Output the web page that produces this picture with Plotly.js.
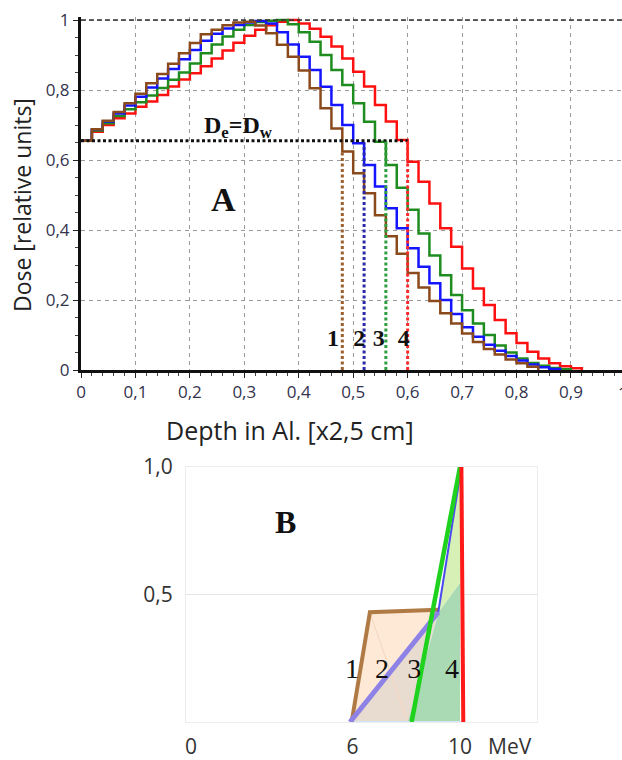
<!DOCTYPE html>
<html><head><meta charset="utf-8">
<script src="https://cdn.plot.ly/plotly-3.0.1.min.js"></script>
<style>html,body{margin:0;padding:0;background:#fff;}#chart{width:622px;height:760px;}</style>
</head><body><div id="chart"></div>
<script>
// ---------- Chart A : depth-dose step curves ----------
const DEPTH = [0,0.02,0.04,0.06,0.08,0.10,0.12,0.14,0.16,0.18,0.20,0.22,0.24,0.26,0.28,0.30,0.32,0.34,0.36,0.38,0.40,0.42,0.44,0.46,0.48,0.50,0.52,0.54,0.56,0.58,0.60,0.62,0.64,0.66,0.68,0.70,0.72,0.74,0.76,0.78,0.80,0.82,0.84,0.86,0.88,0.90,0.92];
const DOSE_1 = [0.655,0.688,0.712,0.737,0.762,0.789,0.819,0.846,0.875,0.905,0.934,0.959,0.972,0.985,0.993,0.995,0.984,0.962,0.929,0.895,0.856,0.805,0.748,0.690,0.624,0.562,0.505,0.442,0.382,0.332,0.277,0.236,0.197,0.162,0.133,0.104,0.080,0.060,0.044,0.030,0.019,0.009];
const DOSE_2 = [0.655,0.688,0.710,0.733,0.756,0.781,0.807,0.833,0.860,0.888,0.914,0.941,0.961,0.976,0.986,0.993,0.997,0.990,0.965,0.930,0.895,0.857,0.809,0.757,0.700,0.648,0.586,0.524,0.462,0.405,0.348,0.295,0.248,0.200,0.160,0.122,0.095,0.072,0.055,0.040,0.027,0.016,0.008,0.003];
const DOSE_3 = [0.655,0.684,0.705,0.726,0.745,0.765,0.784,0.806,0.829,0.850,0.876,0.905,0.930,0.953,0.972,0.986,0.994,0.998,1.000,0.988,0.965,0.938,0.900,0.857,0.814,0.762,0.709,0.652,0.586,0.521,0.458,0.390,0.327,0.271,0.214,0.171,0.133,0.100,0.070,0.050,0.033,0.020,0.012,0.006,0.002];
const DOSE_4 = [0.655,0.681,0.700,0.719,0.733,0.752,0.767,0.786,0.810,0.830,0.848,0.868,0.890,0.913,0.935,0.955,0.972,0.985,0.995,1.000,0.990,0.975,0.952,0.924,0.890,0.852,0.810,0.757,0.710,0.657,0.595,0.538,0.476,0.405,0.352,0.290,0.233,0.186,0.143,0.105,0.077,0.052,0.033,0.019,0.011,0.005];
const END_DEPTH = [0.84, 0.88, 0.90, 0.92];
const CURVE_LABELS = ['1','2','3','4'];
const CROSS_DEPTH = [0.48, 0.52, 0.56, 0.60];
const CROSS_TOP = [0.624, 0.648, 0.655, 0.655];
const DE_LEVEL = 0.655;
const A_XTICKS = [0,0.1,0.2,0.3,0.4,0.5,0.6,0.7,0.8,0.9,1];
const A_NUM_DEPTH = [0.463, 0.511, 0.547, 0.593];
const A_NUM_DOSE = 0.087;

// ---------- Chart B : energy diagram ----------
const B_XTICKS = [0, 6, 10];
const B_XTICKTEXT = ['0','6','10'];
const B_YTICKS = [0.5, 1.0];
const B_YTICKTEXT = ['0,5','1,0'];
const B_BROWN_E = [5.97, 6.65, 9.19];   const B_BROWN_Y = [0, 0.43, 0.44];
const B_BLUE_E = [5.91, 9.19];           const B_BLUE_Y = [0, 0.43];
const B_BLUE2_E = [9.19, 10.05];         const B_BLUE2_Y = [0.43, 1.0];
const B_GREEN_E = [8.2, 10.0];           const B_GREEN_Y = [0, 1.0];
const B_RED_E = [10.05, 10.12];          const B_RED_Y = [1.0, 0];
const B_BASE_E = [5.91, 10.12];          const B_BASE_Y = [0, 0];
const B_PEACH_E = [5.97, 6.65, 9.19, 8.05]; const B_PEACH_Y = [0, 0.43, 0.44, 0];
const B_TAUPE_E = [5.97, 9.19, 8.05];    const B_TAUPE_Y = [0, 0.43, 0];
const B_FAINT_E = [6.65, 8.05];          const B_FAINT_Y = [0.43, 0];
const B_GFILL_E = [8.05, 9.2, 10.0, 10.0]; const B_GFILL_Y = [0, 0.43, 0.545, 0];
const B_YFILL_E = [9.2, 10.05, 10.0];    const B_YFILL_Y = [0.43, 1.0, 0.545];
const B_NUM_E = [5.98, 7.1, 8.3, 9.7];   const B_NUM_Y = [0.2, 0.2, 0.2, 0.2];

const W = 622, H = 760;
const PX = v => v / W;
const PY = v => 1 - v / H;

const A_COLORS = ['#8B4A1C', '#1414FF', '#1E8C1E', '#FF1010'];
const A_DOT_COLORS = ['#9C5F2E', '#2A2AA8', '#2E9E3E', '#FF2A2A'];

function stepTrace(vals, end, color) {
  return {
    x: DEPTH.slice(0, vals.length).concat([end]),
    y: vals.concat([0]),
    mode: 'lines', line: {shape: 'hv', color: color, width: 2.5},
    xaxis: 'x', yaxis: 'y', hoverinfo: 'skip'
  };
}
const doses = [DOSE_1, DOSE_2, DOSE_3, DOSE_4];
const traces = [];
for (let i = 3; i >= 0; i--) traces.push(stepTrace(doses[i], END_DEPTH[i], A_COLORS[i]));
traces.push({x: [0, CROSS_DEPTH[3]], y: [DE_LEVEL, DE_LEVEL], mode: 'lines',
  line: {color: '#111', width: 3, dash: '3px,2.5px'}, xaxis: 'x', yaxis: 'y', hoverinfo: 'skip'});
for (let i = 0; i < 4; i++) {
  traces.push({x: [CROSS_DEPTH[i], CROSS_DEPTH[i]], y: [0, CROSS_TOP[i]], mode: 'lines',
    line: {color: A_DOT_COLORS[i], width: 3, dash: '3px,2.5px'}, xaxis: 'x', yaxis: 'y', hoverinfo: 'skip'});
}
traces.push({x: A_NUM_DEPTH, y: A_NUM_DEPTH.map(() => A_NUM_DOSE), mode: 'text',
  text: CURVE_LABELS.map(s => '<b>' + s + '</b>'), textposition: 'middle center',
  textfont: {family: 'Liberation Serif', size: 24, color: '#111'}, xaxis: 'x', yaxis: 'y', hoverinfo: 'skip'});

function poly(e, y, fill) {
  return {x: e, y: y, mode: 'lines', fill: 'toself', fillcolor: fill, line: {width: 0},
    xaxis: 'x2', yaxis: 'y2', hoverinfo: 'skip'};
}
function seg(e, y, color, w) {
  return {x: e, y: y, mode: 'lines', line: {color: color, width: w}, xaxis: 'x2', yaxis: 'y2', hoverinfo: 'skip'};
}
traces.push(poly(B_PEACH_E, B_PEACH_Y, '#fde9d6'));
traces.push(poly(B_TAUPE_E, B_TAUPE_Y, '#e8dbd0'));
traces.push(seg(B_FAINT_E, B_FAINT_Y, '#f5d6bf', 1));
traces.push(poly(B_GFILL_E, B_GFILL_Y, '#a9dab3'));
traces.push(poly(B_YFILL_E, B_YFILL_Y, '#d6f0b6'));
traces.push(seg(B_BASE_E, B_BASE_Y, '#cfe4f7', 2));
traces.push(seg(B_BROWN_E, B_BROWN_Y, '#b07a45', 4));
traces.push(seg(B_BLUE_E, B_BLUE_Y, '#8f82e6', 5));
traces.push(seg(B_BLUE2_E, B_BLUE2_Y, '#4a4af0', 2));
traces.push(seg(B_GREEN_E, B_GREEN_Y, '#1ed21e', 4.5));
traces.push(seg(B_RED_E, B_RED_Y, '#ff1a1a', 4));
traces.push({x: B_NUM_E, y: B_NUM_Y, mode: 'text', text: CURVE_LABELS, textposition: 'middle center',
  textfont: {family: 'Liberation Serif', size: 28, color: '#111'}, xaxis: 'x2', yaxis: 'y2', hoverinfo: 'skip'});

const tickFontA = {family: 'Open Sans', size: 17, color: '#33334d'};
const layout = {
  width: W, height: H, margin: {l: 0, r: 0, t: 0, b: 0},
  paper_bgcolor: '#fff', plot_bgcolor: 'rgba(0,0,0,0)',
  separators: ', ', showlegend: false,
  xaxis: {
    domain: [PX(81), 1], range: [0, 541 / 544.4], anchor: 'y',
    tickvals: A_XTICKS, showgrid: true, gridcolor: '#9a9a9a', griddash: '4px,4px', gridwidth: 1,
    zeroline: false, showline: true, linecolor: '#111', linewidth: 3,
    ticks: 'outside', ticklen: 5, tickcolor: '#222', tickwidth: 1,
    minor: {dtick: 0.02, tick0: 0, ticks: 'outside', ticklen: 3, tickcolor: '#444', showgrid: false},
    tickfont: tickFontA
  },
  yaxis: {
    domain: [PY(370), PY(16.5)], range: [0, 1.01], anchor: 'x',
    dtick: 0.2, tick0: 0, showgrid: true, gridcolor: '#9a9a9a', griddash: '4px,4px', gridwidth: 1,
    zeroline: false, showline: true, linecolor: '#111', linewidth: 3,
    ticks: 'outside', ticklen: 5, tickcolor: '#222', tickwidth: 1,
    minor: {dtick: 0.05, tick0: 0, ticks: 'outside', ticklen: 3, tickcolor: '#444', showgrid: false},
    tickfont: tickFontA
  },
  xaxis2: {
    domain: [PX(186), PX(537)], range: [-0.186, 12.86], anchor: 'y2',
    tickvals: B_XTICKS, ticktext: B_XTICKTEXT, showgrid: false, zeroline: false,
    showline: true, mirror: true, linecolor: '#ececec', linewidth: 1, ticks: '',
    ticklabelstandoff: 6,
    tickfont: {family: 'Open Sans', size: 21, color: '#333'}
  },
  yaxis2: {
    domain: [PY(722), PY(466.7)], range: [0, 1], anchor: 'x2',
    tickvals: B_YTICKS, ticktext: B_YTICKTEXT, showgrid: true, gridcolor: '#e4e4e4', gridwidth: 1.5,
    zeroline: false, showline: true, mirror: true, linecolor: '#ececec', linewidth: 1, ticks: '',
    ticklabelstandoff: 8,
    tickfont: {family: 'Open Sans', size: 21, color: '#333'}
  },
  shapes: [
    {type: 'line', xref: 'x domain', yref: 'y', x0: 0, x1: 1, y0: 1, y1: 1,
     line: {color: '#333', width: 1.5, dash: '5px,3px'}}
  ],
  annotations: [
    {xref: 'paper', yref: 'paper', x: PX(616), y: PY(392), text: '1', showarrow: false,
     font: tickFontA, xanchor: 'left', yanchor: 'middle'},
    {xref: 'paper', yref: 'paper', x: PX(22), y: PY(205), text: 'Dose [relative units]', textangle: -90,
     showarrow: false, font: {family: 'Open Sans', size: 23, color: '#222'}, xanchor: 'center', yanchor: 'middle'},
    {xref: 'paper', yref: 'paper', x: PX(290), y: PY(430), text: 'Depth in Al. [x2,5 cm]',
     showarrow: false, font: {family: 'Open Sans', size: 25, color: '#222'}, xanchor: 'center', yanchor: 'middle'},
    {xref: 'paper', yref: 'paper', x: PX(238), y: PY(127), text: '<b>D<sub>e</sub>=D<sub>w</sub></b>',
     showarrow: false, font: {family: 'Liberation Serif', size: 24, color: '#111'}, xanchor: 'center', yanchor: 'middle'},
    {xref: 'paper', yref: 'paper', x: PX(223), y: PY(200), text: '<b>A</b>',
     showarrow: false, font: {family: 'Liberation Serif', size: 34, color: '#111'}, xanchor: 'center', yanchor: 'middle'},
    {xref: 'paper', yref: 'paper', x: PX(285), y: PY(522), text: '<b>B</b>',
     showarrow: false, font: {family: 'Liberation Serif', size: 32, color: '#111'}, xanchor: 'center', yanchor: 'middle'},
    {xref: 'paper', yref: 'paper', x: PX(486), y: PY(746), text: 'MeV',
     showarrow: false, font: {family: 'Open Sans', size: 21, color: '#333'}, xanchor: 'left', yanchor: 'middle'}
  ]
};
Plotly.newPlot('chart', traces, layout, {displayModeBar: false, staticPlot: true});
</script>
</body></html>
